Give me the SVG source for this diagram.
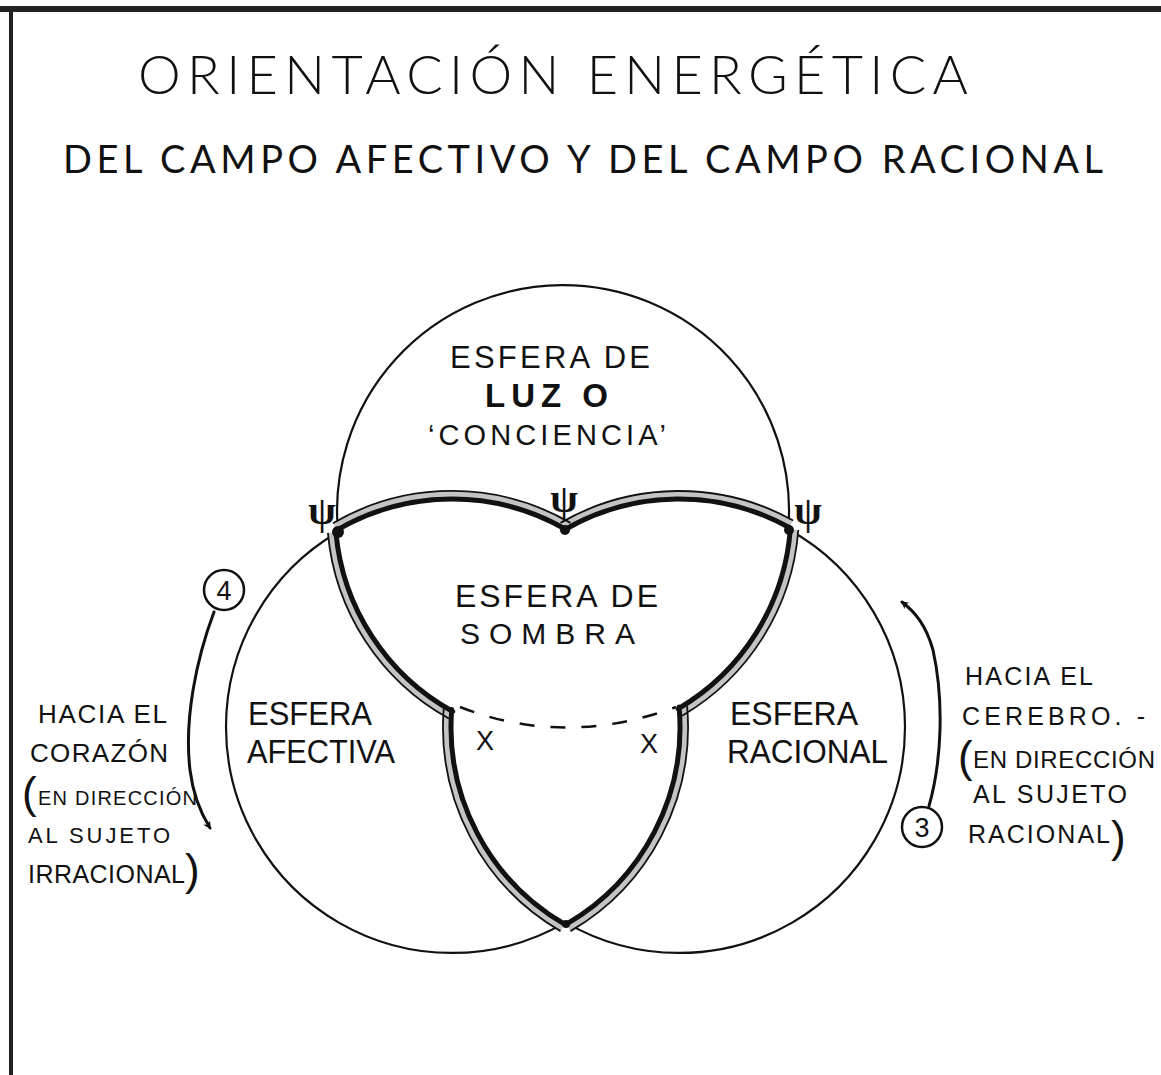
<svg xmlns="http://www.w3.org/2000/svg" width="1161" height="1075" viewBox="0 0 1161 1075">
  <defs>
    <marker id="arrowhead" viewBox="0 0 10 10" refX="8" refY="5" markerWidth="8" markerHeight="8" orient="auto" markerUnits="userSpaceOnUse">
      <path d="M0,0 L10,5 L0,10 L3,5 Z" fill="#111"/>
    </marker>
    <style>
      .title { font-family: "Lato", "Liberation Sans", Arial, sans-serif; font-weight: 300; fill: #111; }
      .sub { font-family: "Lato", "Liberation Sans", Arial, sans-serif; font-weight: 400; fill: #111; }
      .hand { font-family: "Liberation Sans", Arial, sans-serif; fill: #111; }
      .thin { fill: none; stroke: #111; stroke-width: 2.2; }
      .band-gray { fill: none; stroke: #c4c4c4; stroke-width: 7; }
      .band-black { fill: none; stroke: #111; stroke-width: 5; stroke-linecap: round; }
      .band-edge { fill: none; stroke: #111; stroke-width: 1.8; }
      .dash { fill: none; stroke: #111; stroke-width: 2.5; stroke-dasharray: 15 16; }
      .arrow { fill: none; stroke: #111; stroke-width: 3; stroke-linecap: round; }
      .badge { fill: none; stroke: #111; stroke-width: 2.5; }
      .psi { font-family: "Liberation Serif", "Times New Roman", serif; font-size: 40px; font-weight: bold; fill: #111; text-anchor: middle; }
    </style>
  </defs>

  <rect width="1161" height="1075" fill="#ffffff"/>

  <g id="page-frame">
    <rect x="0" y="6" width="1161" height="6" fill="#222"/>
    <rect x="9" y="10" width="4" height="1065" fill="#222"/>
  </g>

  <g id="title">
    <text class="title" x="138" y="94" font-size="54" textLength="830" lengthAdjust="spacing">ORIENTACIÓN ENERGÉTICA</text>
  </g>
  <g id="subtitle">
    <text class="sub" x="63" y="173" font-size="38" textLength="1040" lengthAdjust="spacing">DEL CAMPO AFECTIVO  Y  DEL CAMPO RACIONAL</text>
  </g>

  <g id="circles">
    <path class="thin" d="M 338 532 A 226 226 0 1 1 788.3 529.2 A 226 226 0 0 1 905 727 A 226 226 0 0 1 565.5 922.4 A 226 226 0 0 1 226 727 A 226 226 0 0 1 338 532"/>
  </g>

  <g id="shadow-boundary">
    <path class="band-gray" d="M 335.0 526.7 A 232 232 0 0 1 568.5 526.4 M 562.5 526.4 A 232 232 0 0 1 791.2 524.0 M 794.3 529.7 A 232 232 0 0 1 680.1 712.3 M 683.1 706.6 A 232 232 0 0 1 568.5 927.6 M 562.5 927.6 A 232 232 0 0 1 447.7 709.3 M 450.8 715.0 A 232 232 0 0 1 331.9 532.6"/>
    <path class="band-black" d="M 337.0 530.1 A 228 228 0 0 1 566.5 529.8 M 564.5 529.8 A 228 228 0 0 1 789.3 527.5 M 790.3 529.4 A 228 228 0 0 1 678.1 708.8 M 679.1 706.9 A 228 228 0 0 1 566.5 924.2 M 564.5 924.2 A 228 228 0 0 1 451.7 709.6 M 452.7 711.5 A 228 228 0 0 1 335.9 532.2"/>
    <path class="band-edge" d="M 332.9 523.2 A 236 236 0 0 1 570.5 522.9 M 560.5 522.9 A 236 236 0 0 1 793.2 520.5 M 798.3 530.0 A 236 236 0 0 1 682.2 715.7 M 687.1 706.2 A 236 236 0 0 1 570.5 931.1 M 560.5 931.1 A 236 236 0 0 1 443.7 709.0 M 448.8 718.5 A 236 236 0 0 1 327.9 532.9"/>
    <circle cx="338" cy="532" r="6" fill="#111"/>
    <circle cx="565" cy="530" r="5" fill="#111"/>
    <circle cx="789" cy="530" r="5" fill="#111"/>
    <circle cx="566" cy="924" r="4" fill="#111"/>
    <path class="dash" d="M 460 707 Q 565 748 676 707"/>
  </g>

  <g id="sphere-light">
    <text class="hand" x="450" y="368" font-size="31" textLength="200" lengthAdjust="spacing">ESFERA DE</text>
    <text class="hand" x="485" y="407" font-size="33" font-weight="bold" textLength="123" lengthAdjust="spacing">LUZ  O</text>
    <text class="hand" x="428" y="445" font-size="29" textLength="238" lengthAdjust="spacing">‘CONCIENCIA’</text>
  </g>

  <g id="psi-marks">
    <text class="psi" x="322" y="524">ψ</text>
    <text class="psi" x="564" y="512">ψ</text>
    <text class="psi" x="808" y="524">ψ</text>
  </g>

  <g id="sphere-shadow">
    <text class="hand" x="455" y="607" font-size="32" textLength="203" lengthAdjust="spacing">ESFERA DE</text>
    <text class="hand" x="460" y="644" font-size="30" textLength="175" lengthAdjust="spacing">SOMBRA</text>
    <text class="hand" x="476" y="750" font-size="27">X</text>
    <text class="hand" x="640" y="753" font-size="27">X</text>
  </g>

  <g id="sphere-affective">
    <text class="hand" x="248" y="725" font-size="33" textLength="124" lengthAdjust="spacingAndGlyphs">ESFERA</text>
    <text class="hand" x="247" y="763" font-size="33" textLength="148" lengthAdjust="spacingAndGlyphs">AFECTIVA</text>
  </g>

  <g id="sphere-rational">
    <text class="hand" x="730" y="725" font-size="33" textLength="128" lengthAdjust="spacingAndGlyphs">ESFERA</text>
    <text class="hand" x="727" y="763" font-size="33" textLength="161" lengthAdjust="spacingAndGlyphs">RACIONAL</text>
  </g>

  <g id="badge-4">
    <circle class="badge" cx="224" cy="590" r="20"/>
    <text class="hand" x="224" y="600" font-size="27" text-anchor="middle">4</text>
  </g>

  <g id="badge-3">
    <circle class="badge" cx="922" cy="827" r="20"/>
    <text class="hand" x="922" y="837" font-size="27" text-anchor="middle">3</text>
  </g>

  <g id="label-left">
    <text class="hand" x="38" y="723" font-size="26" textLength="129" lengthAdjust="spacing">HACIA EL</text>
    <text class="hand" x="30" y="762" font-size="26" textLength="138" lengthAdjust="spacing">CORAZÓN</text>
    <text class="hand" x="22" y="808" font-size="44">(</text>
    <text class="hand" x="38" y="805" font-size="20" textLength="159" lengthAdjust="spacing">EN DIRECCIÓN</text>
    <text class="hand" x="28" y="843" font-size="22" textLength="142" lengthAdjust="spacing">AL SUJETO</text>
    <text class="hand" x="28" y="883" font-size="25" textLength="157" lengthAdjust="spacing">IRRACIONAL</text>
    <text class="hand" x="185" y="885" font-size="44">)</text>
  </g>

  <g id="label-right">
    <text class="hand" x="965" y="685" font-size="25" textLength="128" lengthAdjust="spacing">HACIA EL</text>
    <text class="hand" x="962" y="725" font-size="25" textLength="183" lengthAdjust="spacing">CEREBRO. -</text>
    <text class="hand" x="958" y="772" font-size="44">(</text>
    <text class="hand" x="973" y="768" font-size="24" textLength="182" lengthAdjust="spacing">EN DIRECCIÓN</text>
    <text class="hand" x="973" y="803" font-size="25" textLength="154" lengthAdjust="spacing">AL SUJETO</text>
    <text class="hand" x="968" y="843" font-size="25" textLength="142" lengthAdjust="spacing">RACIONAL</text>
    <text class="hand" x="1111" y="852" font-size="44">)</text>
  </g>

  <g id="connectors">
    <path class="arrow" d="M 214 612 C 196 660, 184 720, 190 770 C 193 795, 200 812, 210 828" marker-end="url(#arrowhead)"/>
    <path class="arrow" d="M 929 806 C 942 760, 944 700, 933 650 C 926 625, 915 612, 902 602" marker-end="url(#arrowhead)"/>
  </g>
</svg>
